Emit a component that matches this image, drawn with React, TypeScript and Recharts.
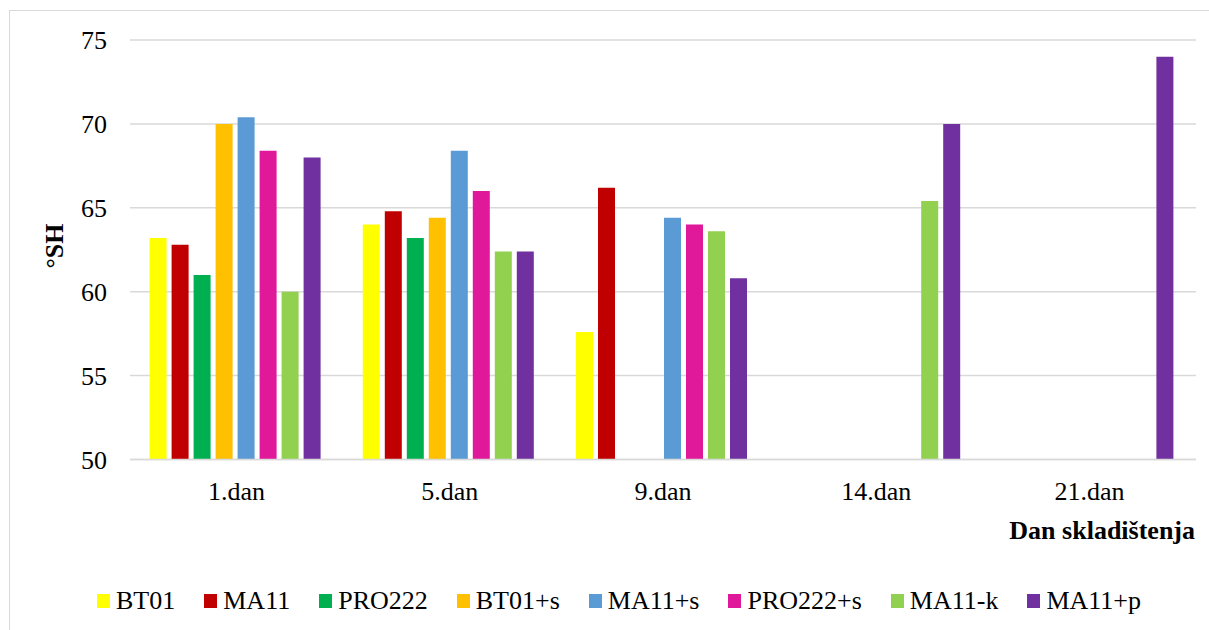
import React from "react";
import { BarChart, Bar, XAxis, YAxis, CartesianGrid, Legend } from "recharts";

const FONT = "'Liberation Serif', 'Times New Roman', Times, 'DejaVu Serif', serif";

const DAYS = ["1.dan", "5.dan", "9.dan", "14.dan", "21.dan"];
const Y_TICKS = [50, 55, 60, 65, 70, 75];

const BT01 = [63.2, 64.0, 57.6, null, null];
const MA11 = [62.8, 64.8, 66.2, null, null];
const PRO222 = [61.0, 63.2, null, null, null];
const BT01_S = [70.0, 64.4, null, null, null];
const MA11_S = [70.4, 68.4, 64.4, null, null];
const PRO222_S = [68.4, 66.0, 64.0, null, null];
const MA11_K = [60.0, 62.4, 63.6, 65.4, null];
const MA11_P = [68.0, 62.4, 60.8, 70.0, 74.0];

const SERIES = [
  { key: "BT01", values: BT01, color: "#FFFF00" },
  { key: "MA11", values: MA11, color: "#C00000" },
  { key: "PRO222", values: PRO222, color: "#00B050" },
  { key: "BT01+s", values: BT01_S, color: "#FFC000" },
  { key: "MA11+s", values: MA11_S, color: "#5B9BD5" },
  { key: "PRO222+s", values: PRO222_S, color: "#E0189A" },
  { key: "MA11-k", values: MA11_K, color: "#92D050" },
  { key: "MA11+p", values: MA11_P, color: "#7030A0" },
];

const rows = DAYS.map((day, i) => {
  const row: Record<string, any> = { day };
  SERIES.forEach((s) => (row[s.key] = s.values[i]));
  return row;
});

function LegendBox() {
  return (
    <div style={{ display: "flex", alignItems: "center", fontFamily: FONT, fontSize: 26, color: "#000" }}>
      {SERIES.map((s) => (
        <div key={s.key} style={{ display: "flex", alignItems: "center", marginRight: 29 }}>
          <span style={{ width: 13, height: 14, background: s.color, marginRight: 6, display: "inline-block" }} />
          <span style={{ lineHeight: "28px" }}>{s.key}</span>
        </div>
      ))}
    </div>
  );
}

function YTitle() {
  return (
    <text
      x={54}
      y={246}
      transform="rotate(-90, 54, 246)"
      textAnchor="middle"
      dominantBaseline="central"
      style={{ fontFamily: FONT }}
      fontSize={26}
      fontWeight="bold"
      fill="#000"
    >
      °SH
    </text>
  );
}

export default function App() {
  return (
    <div style={{ position: "relative", width: 1209, height: 630, overflow: "hidden", background: "#fff", fontFamily: FONT }}>
      <style>{`body{margin:0;overflow:hidden} .recharts-text{font-family:${FONT}}`}</style>
      <div
        style={{
          position: "absolute",
          left: 9,
          top: 10,
          width: 1260,
          height: 700,
          border: "1.5px solid #d9d9d9",
        }}
      />
      <div style={{ position: "absolute", left: 0, top: 0 }}>
        <BarChart
          width={1209}
          height={630}
          data={rows}
          margin={{ top: 40, right: 13, left: 30, bottom: 90.5 }}
          barCategoryGap={19.6}
          barGap={5}
          style={{ fontFamily: FONT }}
        >
          <CartesianGrid vertical={false} stroke="#d9d9d9" strokeWidth={1.5} />
          <XAxis
            dataKey="day"
            height={80}
            axisLine={{ stroke: "#d9d9d9", strokeWidth: 1.5 }}
            tickLine={false}
            tickSize={0}
            tickMargin={22}
            tick={{ fontSize: 26, fill: "#000" }}
            label={{
              value: "Dan skladištenja",
              position: "insideBottomRight",
              offset: 1,
              fontSize: 26,
              fontWeight: "bold",
              fill: "#000",
            }}
          />
          <YAxis
            width={100}
            domain={[50, 75]}
            ticks={Y_TICKS}
            axisLine={false}
            tickLine={false}
            tickSize={0}
            tickMargin={23}
            tick={{ fontSize: 26, fill: "#000" }}
            label={<YTitle />}
          />
          <Legend
            layout="horizontal"
            verticalAlign="middle"
            wrapperStyle={{ top: 587, left: 97, width: 1100 }}
            content={<LegendBox />}
          />
          {SERIES.map((s) => (
            <Bar key={s.key} dataKey={s.key} fill={s.color} isAnimationActive={false} />
          ))}
        </BarChart>
      </div>
    </div>
  );
}
